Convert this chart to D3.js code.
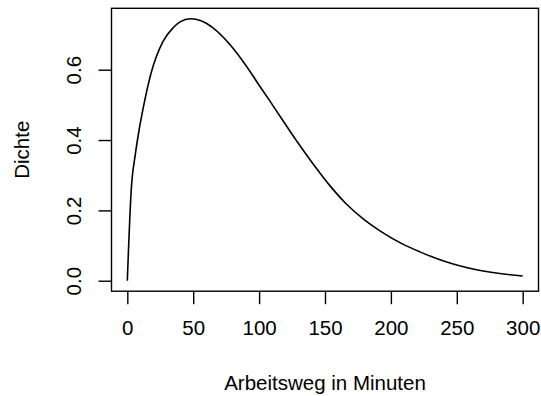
<!DOCTYPE html>
<html>
<head>
<meta charset="utf-8">
<script src="https://d3js.org/d3.v7.min.js"></script>
<style>
  body { margin: 0; background: #fff; }
  svg text { font-family: "Liberation Sans", Arial, sans-serif; fill: #000; }
</style>
</head>
<body>
<svg width="541" height="396"></svg>
<script>
// Density curve
const minutes = [0, 3, 6, 9, 12, 18, 27, 35, 40, 48, 56, 65, 78, 90, 100, 108, 116, 128, 141, 154, 166, 179, 192, 209, 222, 240, 265, 300];
const density = [0, 0.26, 0.357, 0.43, 0.49, 0.59, 0.68, 0.72, 0.736, 0.745, 0.739, 0.719, 0.671, 0.612, 0.556, 0.512, 0.467, 0.400, 0.332, 0.269, 0.219, 0.176, 0.141, 0.104, 0.082, 0.056, 0.031, 0.0134];

const xTicks = [0, 50, 100, 150, 200, 250, 300];
const yTicks = [0, 0.2, 0.4, 0.6];
const yTickLabels = ["0.0", "0.2", "0.4", "0.6"];

const xLabel = "Arbeitsweg in Minuten";
const yLabel = "Dichte";

const svg = d3.select("svg");
const fontSize = 20.5;

// plot region (R pads the data range by 4%)
const x = d3.scaleLinear().domain([-12, 312]).range([111.5, 538.5]);
const y = d3.scaleLinear().domain([-0.0298, 0.7746]).range([291.2, 8.3]);

// box
svg.append("rect")
  .attr("x", x(-12)).attr("y", y(0.7746))
  .attr("width", x(312) - x(-12)).attr("height", y(-0.0298) - y(0.7746))
  .attr("fill", "none").attr("stroke", "#000").attr("stroke-width", 1.4);

// x axis
const xAxis = svg.append("g")
  .attr("transform", `translate(0,${y(-0.0298)})`)
  .call(d3.axisBottom(x).tickValues(xTicks).tickSize(13).tickSizeOuter(0));
xAxis.select(".domain").remove();
xAxis.selectAll("line").attr("stroke", "#000").attr("stroke-width", 1.4);
xAxis.selectAll("text").attr("font-size", fontSize).attr("dy", null)
  .attr("font-family", "Liberation Sans, Arial, sans-serif")
  .attr("y", 44);

// y axis
const yAxis = svg.append("g")
  .attr("transform", `translate(${x(-12)},0)`)
  .call(d3.axisLeft(y).tickValues(yTicks).tickSize(13).tickSizeOuter(0)
    .tickFormat((d, i) => yTickLabels[i]));
yAxis.select(".domain").remove();
yAxis.selectAll("line").attr("stroke", "#000").attr("stroke-width", 1.4);
yAxis.selectAll("text").remove();
yAxis.selectAll(".tick").append("text")
  .attr("transform", "rotate(-90)")
  .attr("x", 0).attr("y", -31)
  .attr("text-anchor", "middle")
  .attr("font-size", fontSize)
  .attr("font-family", "Liberation Sans, Arial, sans-serif")
  .text((d, i) => yTickLabels[i]);

// axis titles
svg.append("text")
  .attr("x", (x(-12) + x(312)) / 2).attr("y", 390)
  .attr("text-anchor", "middle").attr("font-size", fontSize)
  .text(xLabel);

svg.append("text")
  .attr("transform", `translate(29,${(y(-0.0298) + y(0.7746)) / 2}) rotate(-90)`)
  .attr("text-anchor", "middle").attr("font-size", fontSize)
  .text(yLabel);

// curve
const pts = minutes.map((m, i) => [m, density[i]]);
svg.append("path")
  .datum(pts)
  .attr("fill", "none").attr("stroke", "#000").attr("stroke-width", 1.6)
  .attr("d", d3.line().x(d => x(d[0])).y(d => y(d[1])).curve(d3.curveMonotoneX));
</script>
</body>
</html>
